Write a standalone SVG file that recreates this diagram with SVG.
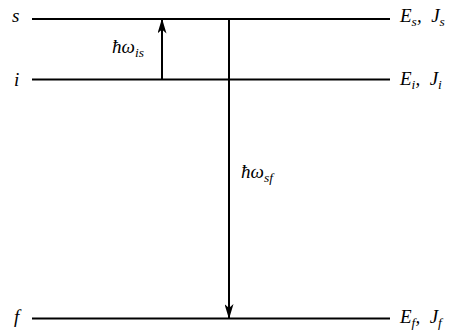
<svg xmlns="http://www.w3.org/2000/svg" width="457" height="331" viewBox="0 0 457 331">
<style>
.lv{stroke:#000;stroke-width:2.2;fill:none}
.ar{stroke:#000;stroke-width:2;fill:none}
text{font-family:"Liberation Serif","Times New Roman",serif;font-style:italic;font-size:19px;fill:#000;white-space:pre}
.sub{font-size:13.5px}
</style>
<defs>
<marker id="ah" viewBox="0 0 15 9" refX="14" refY="4.5" markerWidth="15" markerHeight="9" markerUnits="userSpaceOnUse" orient="auto">
<path d="M0,0 L15,4.5 L0,9 L4,4.5 Z" fill="#000"/>
</marker>
</defs>
<g id="level-s">
<line class="lv" x1="32" y1="19" x2="390" y2="19"/>
<text x="12" y="22">s</text>
<text x="400" y="22" xml:space="preserve">E<tspan class="sub" dy="3.5">s</tspan><tspan dy="-3.5">,  J</tspan><tspan class="sub" dy="3.5">s</tspan></text>
</g>
<g id="level-i">
<line class="lv" x1="32" y1="79.5" x2="390" y2="79.5"/>
<text x="14" y="86">i</text>
<text x="400" y="85" xml:space="preserve">E<tspan class="sub" dy="3.5">i</tspan><tspan dy="-3.5">,  J</tspan><tspan class="sub" dy="3.5">i</tspan></text>
</g>
<g id="level-f">
<line class="lv" x1="32" y1="318.5" x2="390" y2="318.5"/>
<text x="14" y="323">f</text>
<text x="400" y="323" xml:space="preserve">E<tspan class="sub" dy="3.5">f</tspan><tspan dy="-3.5">,  J</tspan><tspan class="sub" dy="3.5">f</tspan></text>
</g>
<g id="connectors">
<line class="ar" x1="162" y1="79.5" x2="162" y2="19.5" marker-end="url(#ah)"/>
<line class="ar" x1="229" y1="19" x2="229" y2="318" marker-end="url(#ah)"/>
</g>
<g id="labels">
<text x="112" y="53">ħω<tspan class="sub" dy="3.5">is</tspan></text>
<text x="241" y="178">ħω<tspan class="sub" dy="3.5">sf</tspan></text>
</g>
</svg>
